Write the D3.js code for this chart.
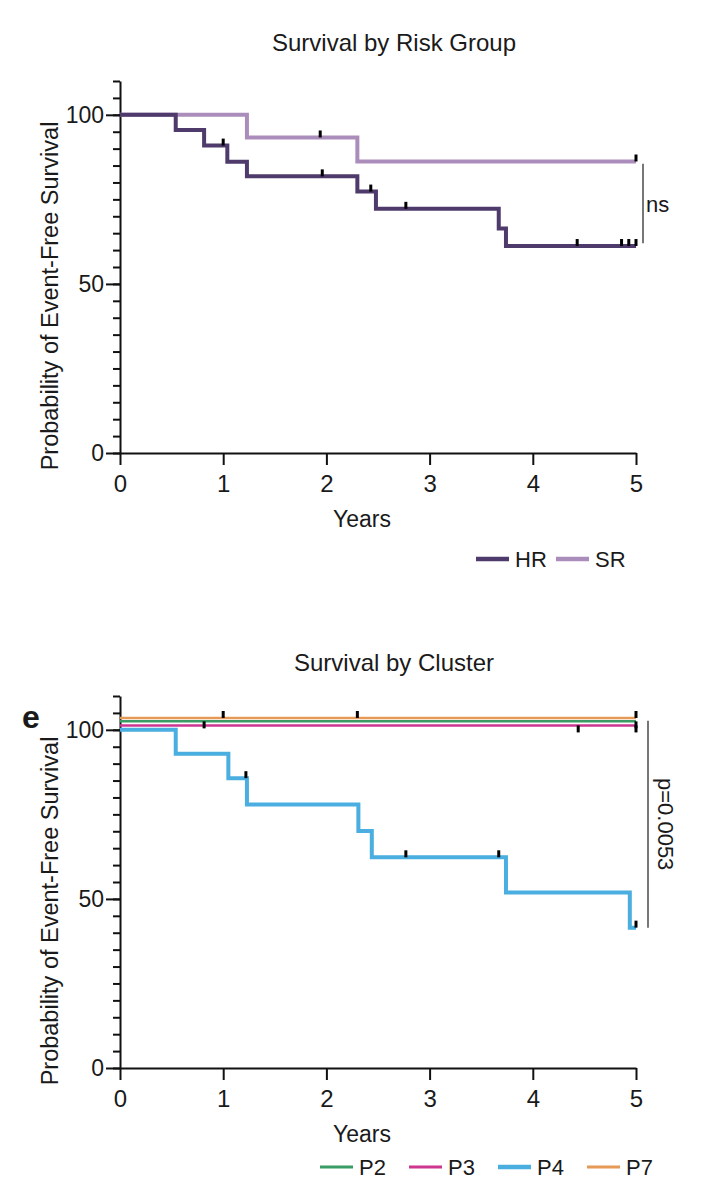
<!DOCTYPE html>
<html>
<head>
<meta charset="utf-8">
<script src="https://cdn.jsdelivr.net/npm/d3@7"></script>
<style>
  body { margin: 0; background: #fff; }
  svg { display: block; }
  text { font-family: "Liberation Sans", Arial, Helvetica, sans-serif; fill: #1a1a1a; }
</style>
</head>
<body>
<script>
// ---- data ----
var yearTicks = [0, 1, 2, 3, 4, 5];
var survTicks = [0, 50, 100];

// panel 1: risk groups
var riskGroups = ["HR", "SR"];
var hrTimes  = [0, 0.54, 0.815, 1.04, 1.23, 2.30, 2.48, 3.67, 3.74, 5.0];
var hrSurv   = [100, 95.5, 90.9, 86.1, 81.8, 77.3, 72.2, 66.4, 61.2, 61.2];
var hrCensor = [1.0, 1.96, 2.43, 2.77, 4.43, 4.86, 4.93, 5.0];
var srTimes  = [0, 1.23, 2.30, 5.0];
var srSurv   = [100, 93.3, 86.2, 86.2];
var srCensor = [1.94, 5.0];
var riskTest = "ns";

// panel e: clusters
var clusters = ["P2", "P3", "P4", "P7"];
var p2Times = [0, 5.0], p2Surv = [100, 100], p2Censor = [0.815, 5.0];
var p3Times = [0, 5.0], p3Surv = [100, 100], p3Censor = [4.44, 5.0];
var p4Times  = [0, 0.54, 1.05, 1.23, 2.31, 2.44, 3.74, 4.94, 5.0];
var p4Surv   = [100, 92.9, 85.7, 77.9, 70.1, 62.3, 51.9, 41.5, 41.5];
var p4Censor = [1.22, 2.77, 3.67, 5.0];
var p7Times = [0, 5.0], p7Surv = [100, 100], p7Censor = [1.0, 2.30, 5.0];
var clusterTest = "p=0.0053";

// ---- drawing ----
var width = 708, height = 1200;
var svg = d3.select("body").append("svg")
    .attr("width", width).attr("height", height);

var x = d3.scaleLinear().domain([0, 5]).range([120, 636]);

function survAt(times, surv, t) {
  var i = d3.bisectRight(times, t) - 1;
  return surv[Math.max(0, i)];
}

function drawPanel(p) {
  var y = d3.scaleLinear().domain([0, 110]).range([p.base, p.base - 372]);
  var g = svg.append("g");

  // title
  g.append("text").attr("x", 394).attr("y", p.titleY)
    .attr("text-anchor", "middle").style("font-size", "24px").text(p.title);

  // y axis: minor ticks then labelled ticks
  var minor = g.append("g").attr("transform", "translate(120,0)")
    .call(d3.axisLeft(y).tickValues(d3.range(0, 111, 5)).tickSize(7).tickFormat("").tickSizeOuter(0));
  minor.select(".domain").remove();
  var major = g.append("g").attr("transform", "translate(120,0)")
    .call(d3.axisLeft(y).tickValues(survTicks).tickSize(14).tickPadding(2).tickSizeOuter(0));
  [minor, major].forEach(function(a) {
    a.selectAll("line").attr("stroke", "#111").attr("stroke-width", 2);
    a.select(".domain").attr("stroke", "#111").attr("stroke-width", 2);
    a.selectAll("text").style("font-size", "23px").attr("fill", "#1a1a1a");
  });

  // x axis
  var xa = g.append("g").attr("transform", "translate(0," + p.base + ")")
    .call(d3.axisBottom(x).tickValues(yearTicks).tickFormat(d3.format("d"))
      .tickSize(12).tickPadding(10).tickSizeOuter(0));
  xa.selectAll("line").attr("stroke", "#111").attr("stroke-width", 2);
  xa.select(".domain").attr("stroke", "#111").attr("stroke-width", 2);
  xa.selectAll("text").style("font-size", "24px").attr("fill", "#1a1a1a");

  // axis titles
  g.append("text").attr("x", 362).attr("y", p.base + 74)
    .attr("text-anchor", "middle").style("font-size", "23px").text("Years");
  g.append("text")
    .attr("transform", "translate(58," + (p.base - 157) + ") rotate(-90)")
    .attr("text-anchor", "middle").style("font-size", "23.5px")
    .text("Probability of Event-Free Survival");

  // survival curves
  var line = d3.line()
    .x(function(d) { return x(d[0]); })
    .y(function(d) { return y(d[1]); })
    .curve(d3.curveStepAfter);

  p.series.forEach(function(s) {
    var pts = s.times.map(function(t, i) { return [t, s.surv[i] + s.nudge]; });
    g.append("path").attr("d", line(pts))
      .attr("fill", "none").attr("stroke", s.color)
      .attr("stroke-width", s.width).attr("stroke-linejoin", "miter");
  });

  // censor marks
  p.series.forEach(function(s) {
    g.selectAll(null).data(s.censor).enter().append("line")
      .attr("x1", function(t) { return x(t); })
      .attr("x2", function(t) { return x(t); })
      .attr("y1", function(t) { return y(survAt(s.times, s.surv, t) + s.nudge); })
      .attr("y2", function(t) { return y(survAt(s.times, s.surv, t) + s.nudge) + 7 * s.tickDir; })
      .attr("stroke", "#000").attr("stroke-width", 3);
  });

  // comparison bracket
  var b = p.bracket;
  g.append("line").attr("x1", b.x).attr("x2", b.x)
    .attr("y1", y(b.from)).attr("y2", y(b.to))
    .attr("stroke", "#555").attr("stroke-width", 1.6);
  var mid = (y(b.from) + y(b.to)) / 2;
  if (b.rotate) {
    g.append("text").attr("transform", "translate(" + (b.x + 10) + "," + mid + ") rotate(90)")
      .attr("text-anchor", "middle").style("font-size", "22px").text(b.label);
  } else {
    g.append("text").attr("x", b.x + 3).attr("y", mid + 8)
      .style("font-size", "22px").text(b.label);
  }

  // legend
  p.series.slice().sort(function(a, c) { return a.order - c.order; }).forEach(function(s, i) {
    var lx = p.legendX + i * p.legendStep;
    g.append("line").attr("x1", lx).attr("x2", lx + 33)
      .attr("y1", p.legendY).attr("y2", p.legendY)
      .attr("stroke", s.color).attr("stroke-width", s.legendWidth);
    g.append("text").attr("x", lx + 39).attr("y", p.legendY + 8)
      .style("font-size", "22px").text(s.name);
  });
}

drawPanel({
  base: 453, title: "Survival by Risk Group", titleY: 51,
  legendX: 476, legendStep: 80, legendY: 559,
  bracket: { x: 643, from: 85.5, to: 62, label: riskTest, rotate: false },
  series: [
    { name: riskGroups[1], order: 1, times: srTimes, surv: srSurv, censor: srCensor,
      color: "#ab8dbb", width: 4, legendWidth: 4.5, nudge: 0, tickDir: -1 },
    { name: riskGroups[0], order: 0, times: hrTimes, surv: hrSurv, censor: hrCensor,
      color: "#4e3b6c", width: 4, legendWidth: 4.5, nudge: 0, tickDir: -1 }
  ]
});

svg.append("text").attr("x", 22).attr("y", 728)
  .style("font-size", "32px").style("font-weight", "bold").text("e");

drawPanel({
  base: 1068, title: "Survival by Cluster", titleY: 671,
  legendX: 320, legendStep: 89, legendY: 1167,
  bracket: { x: 648, from: 102.7, to: 41.5, label: clusterTest, rotate: true },
  series: [
    { name: clusters[2], order: 2, times: p4Times, surv: p4Surv, censor: p4Censor,
      color: "#4aaee0", width: 4, legendWidth: 4.5, nudge: 0, tickDir: -1 },
    { name: clusters[1], order: 1, times: p3Times, surv: p3Surv, censor: p3Censor,
      color: "#cc3590", width: 2.5, legendWidth: 3, nudge: 1.3, tickDir: 1 },
    { name: clusters[0], order: 0, times: p2Times, surv: p2Surv, censor: p2Censor,
      color: "#3a9b64", width: 2.5, legendWidth: 3, nudge: 2.5, tickDir: 1 },
    { name: clusters[3], order: 3, times: p7Times, surv: p7Surv, censor: p7Censor,
      color: "#e69a57", width: 2.5, legendWidth: 3, nudge: 3.5, tickDir: -1 }
  ]
});
</script>
</body>
</html>
